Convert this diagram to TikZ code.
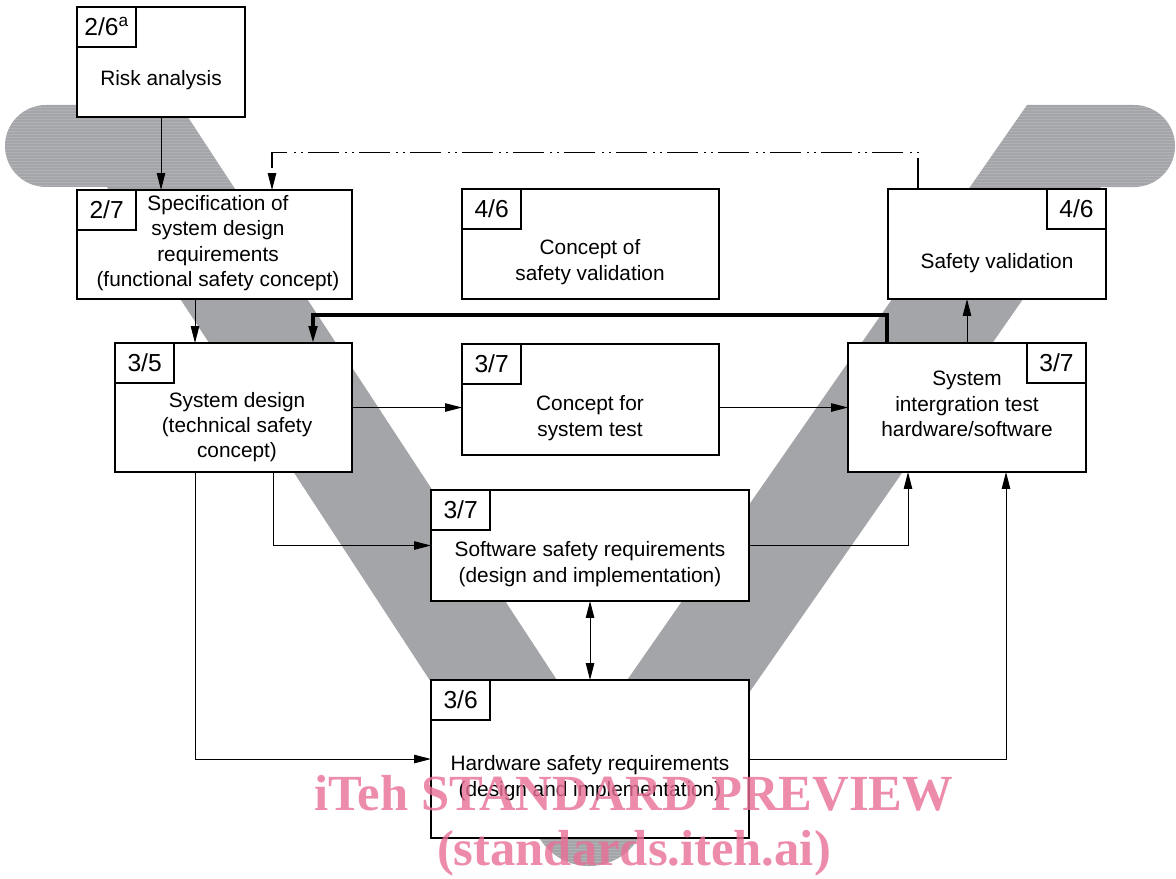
\documentclass[tikz,border=0pt]{standalone}
\usepackage{fontspec}
\setmainfont{Liberation Sans}
\newfontfamily\wmfont{Liberation Serif}
\usetikzlibrary{arrows.meta,calc}
\definecolor{bandgray}{RGB}{164,165,169}
\definecolor{wmpink}{RGB}{232,111,149}
\begin{document}
\begin{tikzpicture}[x=0.025cm, y=-0.025cm, line cap=butt, >={Triangle[length=12pt,width=6pt]},
	box/.style={draw, line width=1.5pt, fill=white, anchor=north west, inner sep=0pt, outer sep=0pt},
	tagbox/.style={draw, line width=1.5pt, fill=white, minimum width=1.48cm, minimum height=0.99cm, inner sep=0pt, outer sep=0pt, font=\fontsize{17.5}{20}\selectfont},
	txt/.style={align=center, inner sep=0pt, font=\fontsize{14.8}{18}\selectfont},
	con/.style={line width=0.7pt, ->},
	dashdot/.style={line width=0.9pt, dash pattern=on 22pt off 3.5pt on 1.5pt off 3.5pt on 1.5pt off 4.5pt},
	wm/.style={text=wmpink, text opacity=0.8, font=\wmfont\bfseries\fontsize{36}{40}\selectfont}]
	\useasboundingbox (0,0) rectangle (1176,879);
	\fill[bandgray] (46,105) -- (180,105) -- (591,732) -- (1027,105) -- (1134,105)
		arc[start angle=90, end angle=-90, radius=1.025cm] -- (1101,187) -- (648,838)
		-- (533,838) -- (107,187) -- (46,187) arc[start angle=270, end angle=90, radius=1.025cm] -- cycle;
	\fill[bandgray] (589,808) circle[radius=1.45cm];
	\begin{scope}
		\clip (46,105) -- (180,105) -- (591,732) -- (1027,105) -- (1134,105)
			arc[start angle=90, end angle=-90, radius=1.025cm] -- (1101,187) -- (648,838)
			-- (533,838) -- (107,187) -- (46,187) arc[start angle=270, end angle=90, radius=1.025cm] -- cycle
			(589,808) circle[radius=1.45cm];
		\foreach \yy in {107,110,...,186,840,843,...,866}
			\draw[white, opacity=0.15, line width=0.5pt] (0,\yy) -- (1176,\yy);
	\end{scope}
	
	\node[box, minimum width=4.2cm, minimum height=2.75cm] (risk) at (77,7) {};
	\node[box, minimum width=6.875cm, minimum height=2.725cm] (spec) at (77,190) {};
	\node[box, minimum width=6.425cm, minimum height=2.75cm] (cval) at (462,189) {};
	\node[box, minimum width=5.45cm, minimum height=2.75cm] (sval) at (888,189) {};
	\node[box, minimum width=5.925cm, minimum height=3.225cm] (sysd) at (115,343) {};
	\node[box, minimum width=6.425cm, minimum height=2.775cm] (ctest) at (462,344) {};
	\node[box, minimum width=5.95cm, minimum height=3.225cm] (sint) at (848,343) {};
	\node[box, minimum width=7.95cm, minimum height=2.775cm] (swreq) at (431,490) {};
	\node[box, minimum width=7.95cm, minimum height=3.95cm] (hwreq) at (431,680) {};
	
	\node[tagbox, anchor=north west] (riskno) at (risk.north west) {2/6\textsuperscript{a}};
	\node[tagbox, anchor=north west] (specno) at (spec.north west) {2/7};
	\node[tagbox, anchor=north west] (cvalno) at (cval.north west) {4/6};
	\node[tagbox, anchor=north east] (svalno) at (sval.north east) {4/6};
	\node[tagbox, anchor=north west] (sysdno) at (sysd.north west) {3/5};
	\node[tagbox, anchor=north west] (ctestno) at (ctest.north west) {3/7};
	\node[tagbox, anchor=north east] (sintno) at (sint.north east) {3/7};
	\node[tagbox, anchor=north west] (swreqno) at (swreq.north west) {3/7};
	\node[tagbox, anchor=north west] (hwreqno) at (hwreq.north west) {3/6};
	
	\node[txt] (riskt) at (161,80) {Risk analysis};
	\node[txt] (spect) at (218,243) {Specification of\\system design\\requirements\\(functional safety concept)};
	\node[txt] (cvalt) at (590,262) {Concept of\\safety validation};
	\node[txt] (svalt) at (997,263) {Safety validation};
	\node[txt] (sysdt) at (237,427) {System design\\(technical safety\\concept)};
	\node[txt] (ctestt) at (590,418) {Concept for\\system test};
	\node[txt] (sintt) at (967,404) {System\\intergration test\\hardware/software};
	\node[txt] (swreqt) at (590,564) {Software safety requirements\\(design and implementation)};
	\node[txt] (hwreqt) at (590,778) {Hardware safety requirements\\(design and implementation)};
	
	\draw[con] (risk.south) -- (risk.south |- spec.north);
	\draw[dashdot] ($(sval.north west)+(30,0)$) -- ++(0,-36.5) -| ($(spec.north west)+(195,-14)$);
	\draw[con] ($(spec.north west)+(195,-14)$) -- ($(spec.north west)+(195,0)$);
	\draw[con] ($(spec.south west)+(118,0)$) -- ($(sysd.north west)+(80,0)$);
	\draw[con, line width=2.3pt] ($(sint.north west)+(39,0)$) -- ++(0,-28) -| ($(sysd.north west)+(198,0)$);
	\draw[con] ($(sint.north west)+(119,0)$) -- ($(sval.south west)+(79,0)$);
	\draw[con] (sysd.east) -- (sysd.east -| ctest.west);
	\draw[con] (sint.west -| ctest.east) -- (sint.west);
	\draw[con] ($(sysd.south west)+(158,0)$) |- (swreq.west);
	\draw[con] ($(sysd.south west)+(80,0)$) |- (hwreq.west);
	\draw[con] (swreq.east) -| ($(sint.south west)+(60,0)$);
	\draw[con] (hwreq.east) -| ($(sint.south west)+(158,0)$);
	\draw[con, <->] (swreq.south) -- (hwreq.north);
	
	\node[wm] (wmtop) at (634,793) {iTeh STANDARD PREVIEW};
	\node[wm] (wmbot) at (634,853) {(standards.iteh.ai)};
\end{tikzpicture}
\end{document}
